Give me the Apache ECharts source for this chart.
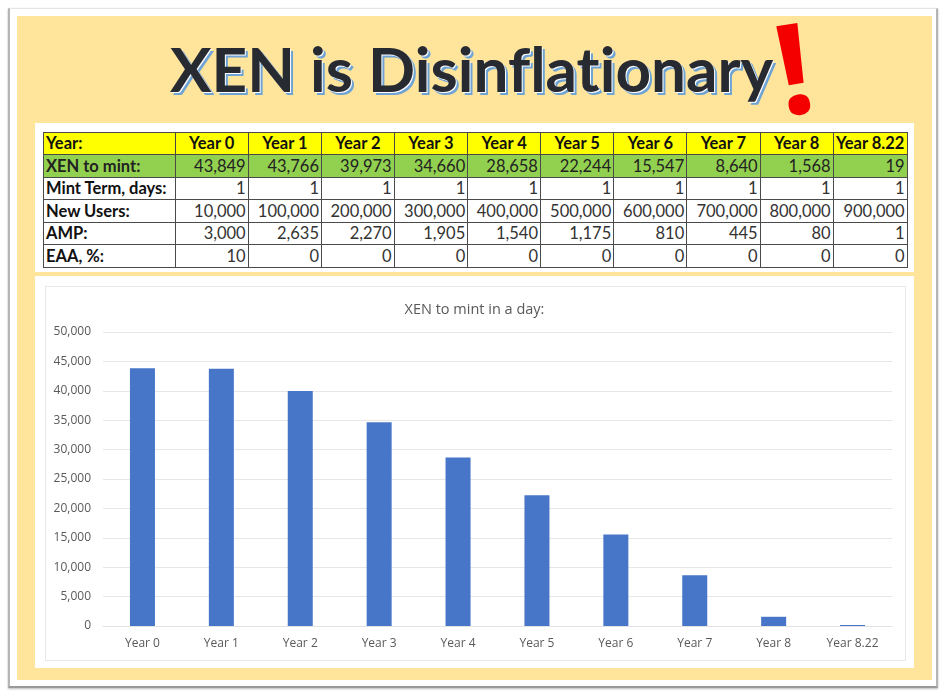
<!DOCTYPE html>
<html>
<head>
<meta charset="utf-8">
<script src="https://cdn.jsdelivr.net/npm/echarts@6/dist/echarts.min.js"></script>
<style>
html, body { margin: 0; padding: 0; background: #fff; overflow: hidden; }
#page { position: relative; width: 948px; height: 697px; }
#frame { position: absolute; left: 8px; top: 8px; width: 930px; height: 680px; background: #fff;
    border: 1px solid #e4e4e4; border-left: 2px solid #b5b5b5; border-bottom: 2px solid #9a9a9a; border-right: 2px solid #b5b5b5; box-sizing: border-box; box-shadow: 0 1px 2px #bbb; }
#panel { position: absolute; left: 17px; top: 16px; width: 915px; height: 664px; background: #ffe49c; }
#title { position: absolute; left: 170px; top: 31px; font: 700 62px Lato, sans-serif; color: #272a30; white-space: nowrap;
    font-variant-ligatures: none; text-shadow: 1px 1px 0 #fff, 3px 3px 0 #6fa3d4; }
#bang { position: absolute; left: 775px; top: -21px; font: 700 126px "Open Sans", sans-serif; color: #f50000; transform: rotate(-9deg); }
#tableBox { position: absolute; left: 35px; top: 123px; width: 879px; height: 149px; background: #fff; }
#xenTable { position: absolute; left: 43px; top: 131.5px; border-collapse: collapse; table-layout: fixed; width: 864px;
    font: 16.5px Lato, sans-serif; color: #111; }
#xenTable td { border: 1px solid #4a4a4a; height: 22.5px; padding: 0 2px; box-sizing: border-box; text-align: right; white-space: nowrap; overflow: hidden; color: #333; }
#xenTable td.name { text-align: left; font-weight: 700; color: #111; }
#xenTable tr.head td { background: #ffff00; font-weight: 700; text-align: center; color: #111; }
#xenTable tr.head td.name { text-align: left; }
#xenTable tr.mint td { background: #92d050; color: #222; }
#chartBox { position: absolute; left: 35px; top: 276px; width: 879px; height: 392px; background: #fff; }
#chartLine { position: absolute; left: 45px; top: 286px; width: 861px; height: 375px; border: 1px solid #e8e8e8; box-sizing: border-box; }
#mychart { position: absolute; left: 35px; top: 276px; width: 879px; height: 392px; }
</style>
</head>
<body>
<div id="page">
    <div id="frame"></div>
    <div id="panel"></div>
    <div id="title">XEN is Disinflationary</div>
    <div id="bang">!</div>
    <div id="tableBox"></div>
    <table id="xenTable"></table>
    <div id="chartBox"></div>
    <div id="chartLine"></div>
    <div id="mychart"></div>
</div>
<script>
// 数据
var years = ['Year 0', 'Year 1', 'Year 2', 'Year 3', 'Year 4', 'Year 5', 'Year 6', 'Year 7', 'Year 8', 'Year 8.22'];
var xenToMint = [43849, 43766, 39973, 34660, 28658, 22244, 15547, 8640, 1568, 19];
var mintTerm = [1, 1, 1, 1, 1, 1, 1, 1, 1, 1];
var newUsers = [10000, 100000, 200000, 300000, 400000, 500000, 600000, 700000, 800000, 900000];
var amp = [3000, 2635, 2270, 1905, 1540, 1175, 810, 445, 80, 1];
var eaa = [10, 0, 0, 0, 0, 0, 0, 0, 0, 0];

var columnWidths = [131.7, 73, 73.3, 72.7, 73.6, 72.7, 73.3, 73, 73.4, 73, 74];

function fmt(v) {
    return v.toLocaleString('en-US');
}

// 表格
function addRow(table, name, values, cls) {
    var html = '<tr' + (cls ? ' class="' + cls + '"' : '') + '><td class="name">' + name + '</td>';
    for (var i = 0; i < values.length; i++) {
        html += '<td>' + values[i] + '</td>';
    }
    return table + html + '</tr>';
}

var tableHtml = '<colgroup>';
for (var c = 0; c < columnWidths.length; c++) {
    tableHtml += '<col style="width:' + columnWidths[c] + 'px">';
}
tableHtml += '</colgroup>';
tableHtml = addRow(tableHtml, 'Year:', years, 'head');
tableHtml = addRow(tableHtml, 'XEN to mint:', xenToMint.map(fmt), 'mint');
tableHtml = addRow(tableHtml, 'Mint Term, days:', mintTerm.map(fmt));
tableHtml = addRow(tableHtml, 'New Users:', newUsers.map(fmt));
tableHtml = addRow(tableHtml, 'AMP:', amp.map(fmt));
tableHtml = addRow(tableHtml, 'EAA, %:', eaa.map(fmt));
document.getElementById('xenTable').innerHTML = tableHtml;

// 图表
var myChart = echarts.init(document.getElementById('mychart'));
var option = {
    animation: false,
    title: {
        text: 'XEN to mint in a day:',
        left: 'center',
        top: 21,
        textStyle: { fontFamily: 'Open Sans', fontSize: 14.5, fontWeight: 'normal', color: '#595959' }
    },
    grid: { left: 68, right: 22, top: 56, bottom: 42 },
    xAxis: {
        type: 'category',
        data: years,
        axisLine: { lineStyle: { color: '#e3e3e3' } },
        axisTick: { show: false },
        axisLabel: { fontFamily: 'Open Sans', fontSize: 12, color: '#595959', margin: 12, interval: 0 }
    },
    yAxis: {
        type: 'value',
        min: 0,
        max: 50000,
        interval: 5000,
        axisLine: { show: false },
        axisTick: { show: false },
        splitLine: { lineStyle: { color: '#e6e6e6' } },
        axisLabel: {
            fontFamily: 'Open Sans', fontSize: 12, color: '#595959', margin: 12,
            formatter: function (v) { return fmt(v); }
        }
    },
    series: [{
        name: 'XEN to mint',
        type: 'bar',
        data: xenToMint,
        barWidth: 25,
        barMinHeight: 1,
        itemStyle: { color: '#4775c8' }
    }]
};
myChart.setOption(option);
</script>
</body>
</html>
